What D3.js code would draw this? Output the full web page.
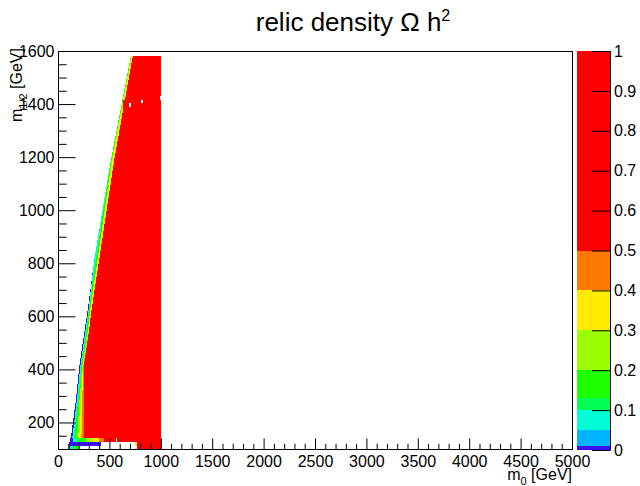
<!DOCTYPE html>
<html><head><meta charset="utf-8">
<script src="https://cdn.jsdelivr.net/npm/d3@7"></script>
<style>
body{margin:0;background:#fff}
svg{display:block}
text{font-family:'Liberation Sans',Arial,Helvetica,sans-serif;fill:#000}
</style>
</head><body>
<svg id="c" width="640" height="486"></svg>
<script>
// ---------------- data ----------------
const xTicks = [0,500,1000,1500,2000,2500,3000,3500,4000,4500,5000];
const yTicks = [200,400,600,800,1000,1200,1400,1600];
const zTicks = [0,0.1,0.2,0.3,0.4,0.5,0.6,0.7,0.8,0.9,1];
const zTickLabels = ["0","0.1","0.2","0.3","0.4","0.5","0.6","0.7","0.8","0.9","1"];

// contour levels of the palette and their colours
const paletteLevels = [0,0.01,0.05,0.1,0.13,0.2,0.3,0.4,0.5,1];
const paletteColors = ["#3a10f5","#00b4ff","#00ffd4","#00ff55","#1eff00","#9cff00","#ffea00","#ff7800","#ff0000"];

// edge of the allowed region: m1/2 rows and the m0 where each value band starts
const edgeM12     = [1580,1190, 814, 626, 540, 412, 288, 164, 141];
const edgeBlue    = [ 708, 515, 353, 290, 256, 207, 175, 132, 126];
const edgeCyan    = [ 708, 515, 353, 297, 265, 217, 185, 146, 139];
const edgeGreen   = [ 708, 515, 369, 304, 275, 229, 197, 165, 158];
const edgeLime    = [ 712, 523, 385, 314, 288, 236, 210, 191, 185];
const edgeYellow  = [ 717, 531, 385, 314, 295, 241, 224, 210, 207];
const edgeOrange  = [ 727, 547, 401, 327, 300, 246, 236, 230, 226];
const edgeRed     = [ 727, 547, 401, 327, 300, 252, 249, 249, 249];
const edgeValues  = [0.005, 0.07, 0.15, 0.25, 0.35, 0.45, 0.8];
const scanMaxM0   = 1000;

// lowest m1/2 rows: [m0 from, m0 to, value]
const rowM12Lo = [126, 111, 100];
const rowM12Hi = [141, 126, 111];
const rowCells = [
  [[117,142,0.005],[142,185,0.07],[185,272,0.15],[272,337,0.25],[337,402,0.35],[402,450,0.45],[450,560,0.8],[578,1000,0.8]],
  [[110,418,0.005],[752,764,0.35],[764,1000,0.8]],
  [[110,120,0.005],[120,142,0.07],[142,215,0.15],[764,1000,0.8]]
];
// isolated cells: [m0 lo, m0 hi, m12 lo, m12 hi, value]  (null = empty bin)
const extraCells = [
  [628,660,1385,1415,0.8],
  [693,713,1388,1403,null],
  [807,826,1403,1415,null],
  [990,1000,1415,1430,null]
];

// ---------------- drawing ----------------
const svg = d3.select("#c");
const x = d3.scaleLinear().domain([0,5000]).range([58,572]);
const y = d3.scaleLinear().domain([100,1600]).range([449,51]);
const z = d3.scaleLinear().domain([0,1]).range([450,51]);
const color = d3.scaleThreshold().domain(paletteLevels.slice(1,-1)).range(paletteColors);

const cells = svg.append("g").attr("shape-rendering","crispEdges");
const line = d3.line().x(d=>x(d[0])).y(d=>y(d[1]));

const edges = [edgeBlue,edgeCyan,edgeGreen,edgeLime,edgeYellow,edgeOrange,edgeRed];
edges.forEach((e,k)=>{
  const pts = edgeM12.map((m,i)=>[e[i],m]);
  pts.push([scanMaxM0, edgeM12[edgeM12.length-1]]);
  pts.push([scanMaxM0, edgeM12[0]]);
  cells.append("path").attr("d", line(pts)+"Z").attr("fill", color(edgeValues[k]));
});

rowCells.forEach((row,r)=>{
  row.forEach(c=>{
    cells.append("rect")
      .attr("x", x(c[0])).attr("width", x(c[1])-x(c[0]))
      .attr("y", y(rowM12Hi[r])).attr("height", y(rowM12Lo[r])-y(rowM12Hi[r]))
      .attr("fill", color(c[2]));
  });
});
extraCells.forEach(c=>{
  cells.append("rect")
    .attr("x", x(c[0])).attr("width", x(c[1])-x(c[0]))
    .attr("y", y(c[3])).attr("height", y(c[2])-y(c[3]))
    .attr("fill", c[4]===null ? "#fff" : color(c[4]));
});

// frame
svg.append("rect").attr("x",58.5).attr("y",51.5).attr("width",514).attr("height",398)
  .attr("fill","none").attr("stroke","#000").attr("stroke-width",1);

const fs = "16px";
// x axis
const xMinor = d3.range(0,5001,100).filter(v=>v%500!==0);
const gx = svg.append("g").attr("transform","translate(0,449)");
gx.call(d3.axisBottom(x).tickValues(xTicks).tickSize(-10.5).tickPadding(6.5).tickFormat(d3.format("d")));
gx.append("g").call(d3.axisBottom(x).tickValues(xMinor).tickSize(-5.2).tickFormat(""));
gx.selectAll(".domain").remove();
gx.selectAll("text").style("font-size",fs).attr("fill","#000");
gx.selectAll("line").attr("stroke","#000");

// y axis
const yMinor = d3.range(100,1601,50).filter(v=>v%200!==0);
const gy = svg.append("g").attr("transform","translate(58,0)");
gy.call(d3.axisLeft(y).tickValues(yTicks).tickSize(-17.5).tickPadding(3.5).tickFormat(d3.format("d")));
gy.append("g").call(d3.axisLeft(y).tickValues(yMinor).tickSize(-8.7).tickFormat(""));
gy.selectAll(".domain").remove();
gy.selectAll("text").style("font-size",fs).attr("fill","#000");
gy.selectAll("line").attr("stroke","#000");

// palette
const pal = svg.append("g").attr("shape-rendering","crispEdges");
paletteColors.forEach((c,i)=>{
  pal.append("rect").attr("x",577).attr("width",34)
    .attr("y", z(paletteLevels[i+1])).attr("height", z(paletteLevels[i])-z(paletteLevels[i+1]))
    .attr("fill", c);
});
const gz = svg.append("g").attr("transform","translate(610,0)");
gz.call(d3.axisRight(z).tickValues(zTicks).tickSize(-18).tickSizeOuter(0).tickPadding(4)
  .tickFormat((d,i)=>zTickLabels[i]));
gz.selectAll("text").style("font-size",fs).attr("fill","#000");
gz.selectAll("line,path").attr("stroke","#000");

// titles
const t = svg.append("text").attr("x",353).attr("y",31).attr("text-anchor","middle").style("font-size","26px");
t.append("tspan").text("relic density Ω h");
t.append("tspan").attr("dy",-10).style("font-size","16px").text("2");

const xt = svg.append("text").attr("x",572).attr("y",480).attr("text-anchor","end").style("font-size",fs);
xt.append("tspan").text("m");
xt.append("tspan").attr("dy",5).style("font-size","11px").text("0");
xt.append("tspan").attr("dy",-5).text(" [GeV]");

const yt = svg.append("text").attr("transform","translate(22,48) rotate(-90)").attr("text-anchor","end").style("font-size",fs);
yt.append("tspan").text("m");
yt.append("tspan").attr("dy",5).style("font-size","11px").text("1/2");
yt.append("tspan").attr("dy",-5).text(" [GeV]");
</script>
</body></html>
